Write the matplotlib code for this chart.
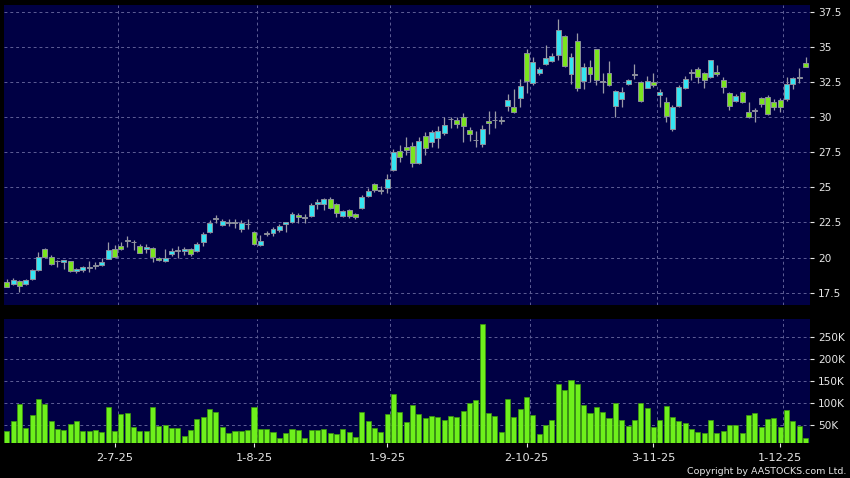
import numpy as np
import matplotlib
matplotlib.use("Agg")
import matplotlib.pyplot as plt

# ---------------- data ----------------
opens = [18.24, 18.12, 18.33, 18.10, 18.50, 19.09, 20.59, 20.07, 19.74, 19.68,
         19.73, 19.02, 19.12, 19.29, 19.44, 19.45, 19.90, 20.59, 20.83, 21.21,
         21.09, 20.85, 20.60, 20.71, 20.00, 19.75, 20.23, 20.49, 20.47, 20.59,
         20.49, 21.13, 21.80, 22.77, 22.32, 22.48, 22.48, 22.03, 22.39, 21.80,
         20.87, 21.72, 21.75, 21.96, 22.37, 22.56, 23.00, 22.86, 22.98, 23.80,
         23.79, 24.15, 23.79, 22.96, 23.37, 23.08, 23.51, 24.36, 25.21, 24.76,
         24.93, 26.23, 27.61, 27.87, 27.94, 26.71, 28.65, 28.25, 28.49, 28.85,
         29.86, 29.82, 30.03, 29.08, 28.37, 28.06, 29.72, 29.80, 29.80, 30.81,
         30.72, 31.33, 34.54, 32.40, 33.12, 33.76, 34.01, 34.42, 35.75, 33.04,
         35.39, 32.59, 33.54, 34.82, 32.55, 33.11, 30.76, 31.26, 32.33, 33.02,
         32.52, 32.09, 32.52, 31.55, 31.05, 29.17, 30.76, 32.09, 33.16, 33.40,
         33.11, 32.83, 33.18, 32.61, 31.69, 31.17, 31.76, 30.34, 30.46, 31.33,
         31.45, 31.05, 31.24, 31.26, 32.38, 32.83, 33.85]
closes = [17.93, 18.41, 18.00, 18.41, 19.09, 20.02, 20.07, 19.52, 19.74, 19.80,
          19.02, 19.15, 19.31, 19.29, 19.44, 19.66, 20.52, 20.07, 20.59, 21.21,
          21.09, 20.35, 20.72, 20.02, 19.81, 20.00, 20.47, 20.49, 20.60, 20.23,
          20.97, 21.65, 22.48, 22.77, 22.58, 22.48, 22.48, 22.44, 22.39, 20.97,
          21.18, 21.72, 22.01, 22.25, 22.50, 23.08, 22.86, 22.86, 23.74, 23.95,
          24.14, 23.51, 23.15, 23.32, 22.96, 22.87, 24.33, 24.76, 24.79, 24.76,
          25.57, 27.54, 27.14, 27.63, 26.71, 28.30, 27.78, 28.91, 29.01, 29.44,
          29.86, 29.53, 29.39, 28.77, 28.37, 29.13, 29.56, 29.80, 29.72, 31.22,
          30.38, 32.21, 32.59, 33.92, 33.42, 34.20, 34.35, 36.20, 33.66, 34.25,
          32.05, 33.54, 33.04, 32.62, 32.55, 32.30, 31.85, 31.79, 32.62, 33.02,
          31.12, 32.54, 32.26, 31.76, 30.05, 30.74, 32.12, 32.69, 33.16, 32.83,
          32.61, 34.04, 33.04, 32.12, 30.76, 31.48, 31.10, 30.03, 30.46, 30.90,
          30.24, 30.69, 30.69, 32.35, 32.76, 32.83, 33.59]
highs = [18.50, 18.55, 18.41, 18.48, 19.17, 20.38, 20.71, 20.19, 19.83, 19.83,
         19.76, 19.24, 19.40, 19.76, 19.71, 19.95, 21.11, 20.87, 21.11, 21.54,
         21.25, 20.95, 20.95, 20.78, 20.07, 20.59, 20.70, 20.82, 20.77, 20.66,
         21.13, 21.82, 22.67, 23.03, 22.77, 22.72, 22.77, 22.67, 22.72, 21.89,
         21.58, 21.89, 22.20, 22.39, 22.56, 23.22, 23.15, 23.10, 23.86, 24.14,
         24.22, 24.29, 23.90, 23.40, 23.45, 23.15, 24.46, 24.96, 25.29, 25.10,
         25.98, 27.73, 27.99, 28.60, 28.25, 28.60, 28.96, 29.08, 29.37, 30.03,
         30.03, 30.03, 30.27, 29.27, 29.03, 29.42, 30.41, 30.46, 30.05, 31.62,
         31.99, 32.69, 34.82, 34.30, 33.60, 35.13, 34.54, 36.98, 35.85, 34.58,
         35.96, 33.83, 34.06, 34.82, 33.11, 33.99, 31.93, 32.12, 32.74, 33.78,
         32.59, 32.92, 33.11, 31.97, 31.45, 30.86, 32.28, 32.92, 33.40, 33.54,
         33.23, 34.06, 33.71, 32.83, 31.78, 31.64, 31.88, 31.05, 30.62, 31.45,
         31.57, 31.26, 31.33, 32.83, 32.88, 33.49, 34.30]
lows = [17.88, 18.03, 17.53, 18.03, 18.41, 19.07, 20.00, 19.47, 19.36, 19.17,
        19.00, 18.93, 18.98, 19.00, 19.19, 19.40, 19.88, 20.02, 20.57, 20.78,
        20.54, 20.30, 20.35, 19.71, 19.76, 19.71, 20.11, 19.95, 20.18, 20.11,
        20.40, 20.83, 21.73, 22.44, 22.25, 22.25, 22.08, 21.82, 22.01, 20.92,
        20.82, 21.51, 21.56, 21.84, 21.82, 22.48, 22.44, 22.44, 22.91, 23.43,
        23.39, 23.43, 22.91, 22.87, 22.82, 22.72, 23.46, 24.30, 24.70, 24.53,
        24.62, 26.18, 26.77, 27.30, 26.43, 26.66, 27.30, 27.90, 27.83, 28.73,
        29.20, 29.20, 28.20, 28.32, 27.85, 27.90, 28.77, 29.20, 29.53, 30.46,
        30.31, 30.74, 31.74, 32.28, 32.97, 33.71, 33.94, 34.06, 33.54, 32.35,
        31.88, 32.00, 32.52, 32.28, 31.74, 32.21, 30.03, 30.74, 32.28, 32.71,
        31.05, 32.04, 32.12, 30.70, 29.67, 29.03, 30.69, 31.97, 32.64, 32.45,
        32.09, 32.76, 32.92, 31.69, 30.50, 31.07, 31.03, 29.96, 29.63, 30.74,
        30.15, 30.50, 30.38, 31.17, 31.99, 32.40, 33.54]
volumes_k = [37.7, 58.3, 98.8, 43.0, 72.8, 109.4, 97.2, 59.8, 40.7, 39.2,
             53.7, 58.3, 37.7, 37.7, 40.0, 35.4, 91.1, 36.9, 75.1, 77.4,
             46.1, 37.7, 37.7, 90.3, 47.6, 49.9, 43.0, 44.5, 26.2, 39.2,
             62.9, 67.4, 87.3, 80.4, 46.8, 31.5, 36.9, 36.9, 39.2, 91.9,
             41.5, 42.2, 33.9, 21.6, 32.3, 41.5, 38.4, 21.6, 40.0, 38.4,
             41.5, 33.1, 30.8, 41.5, 34.6, 23.2, 80.4, 58.3, 44.5, 34.6,
             75.8, 120.9, 80.4, 57.5, 96.5, 74.3, 65.2, 70.5, 69.0, 62.1,
             69.7, 68.2, 81.1, 100.8, 107.6, 278.0, 76.5, 71.2, 34.8, 109.8,
             68.2, 87.1, 114.4, 73.5, 31.1, 50.0, 60.6, 143.9, 130.3, 153.0,
             142.4, 95.5, 78.0, 91.7, 80.3, 65.2, 100.8, 60.6, 47.0, 62.1,
             100.8, 88.6, 45.5, 62.1, 92.4, 69.0, 58.3, 53.8, 42.4, 35.6,
             31.8, 62.1, 31.8, 37.1, 50.8, 50.0, 33.3, 73.5, 77.3, 46.2,
             64.4, 65.9, 46.2, 84.8, 59.1, 48.5, 21.2]
date_tick_pos = [17, 39, 60, 82, 102, 122]
date_tick_labels = ["2-7-25", "1-8-25", "1-9-25", "2-10-25", "3-11-25", "1-12-25"]
price_ticks = [17.5, 20, 22.5, 25, 27.5, 30, 32.5, 35, 37.5]
price_tick_labels = ["17.5", "20", "22.5", "25", "27.5", "30", "32.5", "35", "37.5"]
vol_ticks_k = [50, 100, 150, 200, 250]
vol_tick_labels = ["50K", "100K", "150K", "200K", "250K"]

# ---------------- style ----------------
BG = "#000044"
GRID = "#5e5e96"
UP = "#35e4f2"
DOWN = "#7ae41e"
DOJI = "#9a9aa6"
WICK = "#9a9aa6"
VOL = "#6ef01c"
VOL_EDGE = "#3c9a0c"
TXT = "#e6e6e6"

W, H = 850, 478
fig = plt.figure(figsize=(W / 100, H / 100), dpi=100, facecolor="black")
ax1 = fig.add_axes([4 / W, (H - 305) / H, 806 / W, 300 / H], facecolor=BG)
ax2 = fig.add_axes([4 / W, (H - 443.3) / H, 806 / W, 124.3 / H], facecolor=BG)

idx = np.arange(len(opens))
o = np.array(opens); c = np.array(closes)
hi = np.array(highs); lo = np.array(lows)

colors = [UP if cc > oo else (DOWN if cc < oo else DOJI) for oo, cc in zip(o, c)]
body_bottom = np.minimum(o, c)
body_h = np.maximum(np.abs(c - o), 0.04)

ax1.vlines(idx, lo, hi, color=WICK, linewidth=0.9, zorder=2)
ax1.bar(idx, body_h, bottom=body_bottom - np.where(np.abs(c - o) < 0.04, 0.02, 0), width=0.78,
        color=colors, edgecolor="#8c8f9c", linewidth=0.7, zorder=3)

ax2.bar(idx, np.array(volumes_k) * 1000, width=0.8, color=VOL,
        edgecolor=VOL_EDGE, linewidth=0.5, zorder=3)

for ax in (ax1, ax2):
    ax.set_xlim(-0.43, 126.7)
    for s in ax.spines.values():
        s.set_visible(False)
    ax.grid(axis="y", color=GRID, linestyle=(0, (3, 3)), linewidth=0.7, zorder=0)
    ax.set_axisbelow(True)
    for t in date_tick_pos:
        ax.axvline(t + 0.5, color=GRID, linestyle=(0, (3, 3)), linewidth=0.7, zorder=0.5)
    ax.yaxis.tick_right()
    ax.tick_params(axis="y", colors=TXT, labelcolor=TXT, length=3, width=0.8,
                   pad=3, labelsize=7.6, direction="out")

ax1.set_ylim(16.62, 37.98)
ax1.set_yticks(price_ticks)
ax1.set_yticklabels(price_tick_labels)
ax1.set_xticks([])

ax2.set_ylim(9000, 290000)
ax2.set_yticks(np.array(vol_ticks_k) * 1000)
ax2.set_yticklabels(vol_tick_labels)
ax2.set_xticks(date_tick_pos)
ax2.set_xticklabels(date_tick_labels)
ax2.tick_params(axis="x", colors=TXT, labelcolor=TXT, length=3, width=0.8,
                pad=4, labelsize=8.2, direction="out")

fig.text(846 / W, 1 - 471 / H, "Copyright by AASTOCKS.com Ltd.", color=TXT,
         fontsize=6.8, ha="right", va="center")

fig.savefig("out.png", dpi=100, facecolor="black")
